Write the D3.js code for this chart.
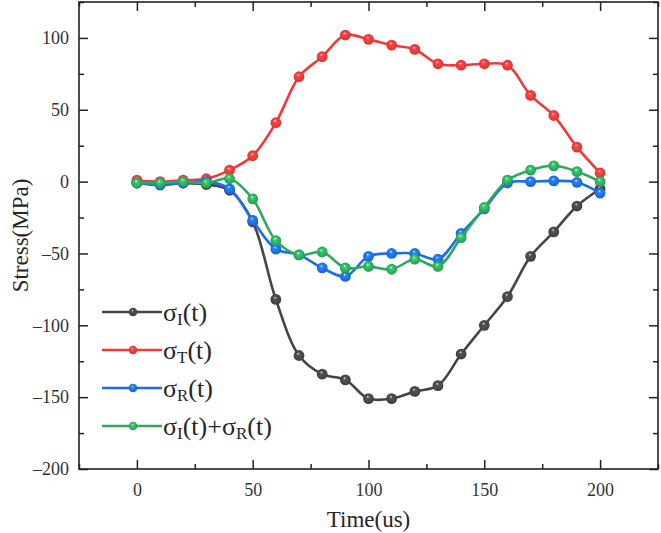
<!DOCTYPE html>
<html>
  <head>
    <meta charset="utf-8">
    <style>
      body { margin: 0; background: #fff; }
      text { font-family: "Liberation Serif", "Times New Roman", serif; fill: #262626; }
      .axis path { display: none; }
      .axis line { stroke: #222; stroke-width: 1.5px; }
      .axis text { font-size: 18px; fill: #333; }
      .series path { fill: none; stroke-width: 2.6px; }
    </style>
  </head>
  <body>
    <svg width="661" height="533"></svg>
    <script src="https://d3js.org/d3.v7.min.js"></script>
    <script>
      // time points (us)
      var times = [0, 10, 20, 30, 40, 50, 60, 70, 80, 90, 100, 110, 120, 130, 140, 150, 160, 170, 180, 190, 200];

      // stress values (MPa)
      var sigmaI = [-1, -1, -1, -2, -6, -28, -82, -121, -134, -138, -151, -151, -146, -142, -120, -100, -80, -52, -35, -17, -5];
      var sigmaT = [1, 0, 1, 2, 8, 18, 41, 73, 87, 102, 99, 95, 92, 82, 81, 82, 81, 60, 46, 24, 6];
      var sigmaR = [-1, -2.5, -1, 0, -5, -27, -47, -51, -60, -66, -52, -50, -50, -54, -36, -19, -1, 0, 0.5, -0.5, -8];
      var sigmaIR = [-1, -1, 0, -1, 2, -12, -41, -51, -49, -60, -59, -61, -54, -59, -39, -18, 1, 8, 11, 7, 0];

      var seriesNames = ["I", "T", "R", "I+R"];
      var seriesColors = ["#454545", "#f03a3a", "#1e6de6", "#2ea85c"];

      var xTicks = [0, 50, 100, 150, 200];
      var xMinor = [-25, 25, 75, 125, 175, 225];
      var yTicks = [-200, -150, -100, -50, 0, 50, 100];
      var yMinor = [-175, -125, -75, -25, 25, 75, 125];

      var svg = d3.select("svg");
      var mLeft = 79, mRight = 658, mTop = 2, mBottom = 469;

      var x = d3.scaleLinear().domain([-25, 225]).range([mLeft, mRight]);
      var y = d3.scaleLinear().domain([-200, 125]).range([mBottom, mTop]);

      var defs = svg.append("defs");
      seriesColors.forEach(function(c, i) {
        var g = defs.append("radialGradient")
          .attr("id", "ball" + i)
          .attr("cx", "50%").attr("cy", "50%").attr("r", "55%")
          .attr("fx", "42%").attr("fy", "32%");
        g.append("stop").attr("offset", "0%").attr("stop-color", "#ffffff");
        g.append("stop").attr("offset", "22%").attr("stop-color", d3.color(c).brighter(0.6));
        g.append("stop").attr("offset", "100%").attr("stop-color", d3.color(c).darker(0.4));
      });

      // axes, ticks inward on all four sides
      function addAxis(axis, tf) {
        return svg.append("g").attr("class", "axis").attr("transform", tf).call(axis);
      }
      addAxis(d3.axisBottom(x).tickValues(xTicks).tickSizeInner(-9).tickSizeOuter(0).tickPadding(14),
        "translate(0," + mBottom + ")");
      addAxis(d3.axisBottom(x).tickValues(xMinor).tickSizeInner(-5).tickSizeOuter(0).tickFormat(""),
        "translate(0," + mBottom + ")");
      addAxis(d3.axisTop(x).tickValues(xTicks).tickSizeInner(-9).tickSizeOuter(0).tickFormat(""),
        "translate(0," + mTop + ")");
      addAxis(d3.axisTop(x).tickValues(xMinor).tickSizeInner(-5).tickSizeOuter(0).tickFormat(""),
        "translate(0," + mTop + ")");
      addAxis(d3.axisLeft(y).tickValues(yTicks).tickSizeInner(-9).tickSizeOuter(0).tickPadding(10)
        .tickFormat(function(d) { return d < 0 ? "\u2013" + Math.abs(d) : d; }),
        "translate(" + mLeft + ",0)");
      addAxis(d3.axisLeft(y).tickValues(yMinor).tickSizeInner(-5).tickSizeOuter(0).tickFormat(""),
        "translate(" + mLeft + ",0)");
      addAxis(d3.axisRight(y).tickValues(yTicks).tickSizeInner(-9).tickSizeOuter(0).tickFormat(""),
        "translate(" + mRight + ",0)");
      addAxis(d3.axisRight(y).tickValues(yMinor).tickSizeInner(-5).tickSizeOuter(0).tickFormat(""),
        "translate(" + mRight + ",0)");

      svg.append("rect")
        .attr("x", mLeft).attr("y", mTop)
        .attr("width", mRight - mLeft).attr("height", mBottom - mTop)
        .attr("fill", "none").attr("stroke", "#222").attr("stroke-width", 1.6);

      svg.append("text")
        .attr("x", (mLeft + mRight) / 2).attr("y", 527)
        .attr("text-anchor", "middle").style("font-size", "23px")
        .text("Time(us)");

      svg.append("text")
        .attr("transform", "translate(28," + (mTop + mBottom) / 2 + ") rotate(-90)")
        .attr("text-anchor", "middle").style("font-size", "23px")
        .text("Stress(MPa)");

      // series
      var allSeries = [sigmaI, sigmaT, sigmaR, sigmaIR];
      var line = d3.line()
        .x(function(d) { return x(d[0]); })
        .y(function(d) { return y(d[1]); })
        .curve(d3.curveCatmullRom.alpha(0.5));

      allSeries.forEach(function(vals, i) {
        var pts = times.map(function(t, j) { return [t, vals[j]]; });
        var g = svg.append("g").attr("class", "series");
        g.append("path").attr("d", line(pts)).attr("stroke", seriesColors[i]);
        g.selectAll("circle").data(pts).enter().append("circle")
          .attr("cx", function(d) { return x(d[0]); })
          .attr("cy", function(d) { return y(d[1]); })
          .attr("r", 5.4)
          .attr("fill", "url(#ball" + i + ")");
      });

      // legend
      var legendY = [312, 350, 388, 426];
      var legend = svg.append("g");
      seriesNames.forEach(function(name, i) {
        var row = legend.append("g").attr("transform", "translate(0," + legendY[i] + ")");
        row.append("line").attr("x1", 102).attr("x2", 162).attr("y1", 0).attr("y2", 0)
          .attr("stroke", seriesColors[i]).attr("stroke-width", 2.6);
        row.append("circle").attr("cx", 133).attr("cy", 0).attr("r", 4.3)
          .attr("fill", "url(#ball" + i + ")");
        var t = row.append("text").attr("x", 163).attr("y", 9).style("font-size", "26px");
        var parts = name === "I+R" ? ["I", "R"] : [name];
        parts.forEach(function(p, k) {
          if (k > 0) t.append("tspan").text("+");
          t.append("tspan").text("\u03c3");
          t.append("tspan").attr("dy", 4).style("font-size", "17px").text(p);
          t.append("tspan").attr("dy", -4).text("(t)");
        });
      });
    </script>
  </body>
</html>
